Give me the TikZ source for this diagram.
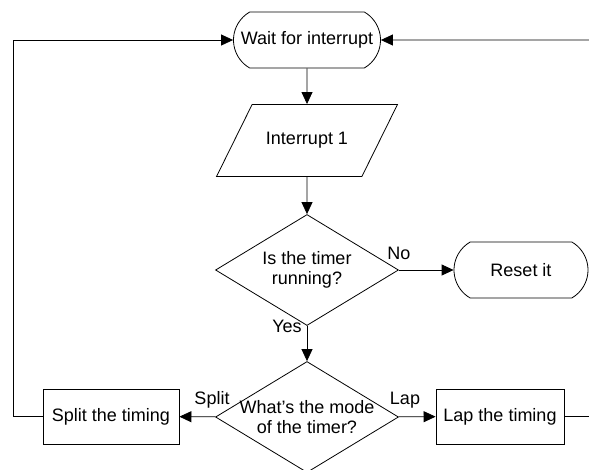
\documentclass[tikz,border=0pt]{standalone}
\usepackage{fontspec}
\setmainfont{Liberation Sans}
\usetikzlibrary{shapes.geometric,shapes.misc,arrows.meta}

\begin{document}
\begin{tikzpicture}[x=1pt,y=-1pt,line width=0.8pt,
        every node/.style={font=\fontsize{18}{20}\selectfont},
        terminal/.style={rounded rectangle,rounded rectangle arc length=120,draw,minimum height=56pt,inner xsep=0pt},
        io/.style={trapezium,trapezium left angle=63.7,trapezium right angle=116.3,trapezium stretches body=true,draw,minimum width=181pt,inner ysep=28pt},
        decision/.style={diamond,aspect=1.65,draw,minimum width=183pt,minimum height=111pt,inner sep=0pt,align=center},
        process/.style={rectangle,draw,minimum height=55pt,inner xsep=2pt},
        flow/.style={-{Triangle[length=12pt,width=11pt]}},
        lbl/.style={inner sep=0pt}]
    \useasboundingbox (0,0) rectangle (589,469);

    \node[terminal,minimum width=147pt] (wait) at (307,40) {\makebox[0pt]{Wait for interrupt}};
    \node[io] (input) at (307,140.5) {Interrupt 1};
    \node[decision] (running) at (307,270) {Is the timer\\running?};
    \node[terminal,minimum width=134pt] (reset) at (521,270) {\makebox[0pt]{Reset it}};
    \node[decision,inner xsep=-7pt] (mode) at (307,417) {What’s the mode\\of the timer?};
    \node[process,minimum width=136pt] (split) at (111,416.5) {Split the timing};
    \node[process,minimum width=128pt] (lap) at (500,416.5) {Lap the timing};

    \node[lbl] (no) at (399,253) {No};
    \node[lbl] (yes) at (287,326) {Yes};
    \node[lbl] (splitlbl) at (212,400) {Split};
    \node[lbl] (laplbl) at (405,400) {Lap};

    \coordinate (loopL) at (13,40);
    \coordinate (loopR) at (600,40);

    \draw[flow] (wait) -- (input);
    \draw[flow] (input) -- (running);
    \draw[flow] (running) -- (reset);
    \draw[flow] (running) -- (mode);
    \draw[flow] (mode) -- (split);
    \draw[flow] (mode) -- (lap);
    \draw[flow] (split) -| (loopL) -- (wait);
    \draw[flow] (lap) -| (loopR) -- (wait);

\end{tikzpicture}
\end{document}
